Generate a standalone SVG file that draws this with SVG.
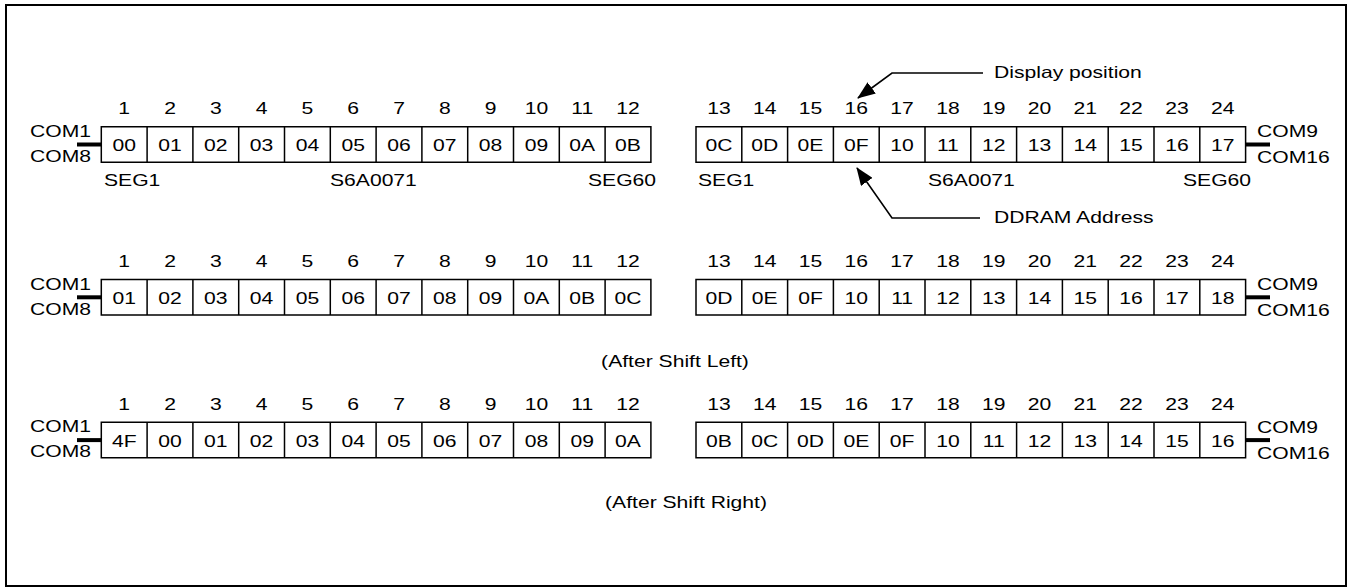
<svg xmlns="http://www.w3.org/2000/svg" width="1350" height="588" viewBox="0 0 1350 588">
<style>
text{font-family:"Liberation Sans",Arial,sans-serif;font-size:16.5px;fill:#000}
.m{text-anchor:middle}
.box{fill:#fff;stroke:#000;stroke-width:1.5}
.stub{stroke:#000;stroke-width:4}
.ln{fill:none;stroke:#000;stroke-width:1.6}
</style>
<defs>
<marker id="ah" markerUnits="userSpaceOnUse" markerWidth="18" markerHeight="14" viewBox="0 0 18 14" refX="17" refY="7" orient="auto">
<path d="M0,0 L18,7 L0,14 Z" fill="#000"/>
</marker>
</defs>
<rect x="6" y="5" width="1340" height="581" fill="#fff" stroke="#000" stroke-width="2"/>

<!-- Row 1 -->
<g id="row1-left">
<path class="box" d="M101.3,126.7h549.6v35.5h-549.6z M147.1,126.7v35.5 M192.9,126.7v35.5 M238.7,126.7v35.5 M284.5,126.7v35.5 M330.3,126.7v35.5 M376.1,126.7v35.5 M421.9,126.7v35.5 M467.7,126.7v35.5 M513.5,126.7v35.5 M559.3,126.7v35.5 M605.1,126.7v35.5"/>
<text class="m" transform="translate(124.2,114) scale(1.28,1)">1</text>
<text class="m" transform="translate(170,114) scale(1.28,1)">2</text>
<text class="m" transform="translate(215.8,114) scale(1.28,1)">3</text>
<text class="m" transform="translate(261.6,114) scale(1.28,1)">4</text>
<text class="m" transform="translate(307.4,114) scale(1.28,1)">5</text>
<text class="m" transform="translate(353.2,114) scale(1.28,1)">6</text>
<text class="m" transform="translate(399,114) scale(1.28,1)">7</text>
<text class="m" transform="translate(444.8,114) scale(1.28,1)">8</text>
<text class="m" transform="translate(490.6,114) scale(1.28,1)">9</text>
<text class="m" transform="translate(536.4,114) scale(1.28,1)">10</text>
<text class="m" transform="translate(582.2,114) scale(1.28,1)">11</text>
<text class="m" transform="translate(628,114) scale(1.28,1)">12</text>
<text class="m" transform="translate(124.2,151) scale(1.28,1)">00</text>
<text class="m" transform="translate(170,151) scale(1.28,1)">01</text>
<text class="m" transform="translate(215.8,151) scale(1.28,1)">02</text>
<text class="m" transform="translate(261.6,151) scale(1.28,1)">03</text>
<text class="m" transform="translate(307.4,151) scale(1.28,1)">04</text>
<text class="m" transform="translate(353.2,151) scale(1.28,1)">05</text>
<text class="m" transform="translate(399,151) scale(1.28,1)">06</text>
<text class="m" transform="translate(444.8,151) scale(1.28,1)">07</text>
<text class="m" transform="translate(490.6,151) scale(1.28,1)">08</text>
<text class="m" transform="translate(536.4,151) scale(1.28,1)">09</text>
<text class="m" transform="translate(582.2,151) scale(1.28,1)">0A</text>
<text class="m" transform="translate(628,151) scale(1.28,1)">0B</text>
<text transform="translate(30,136.7) scale(1.28,1)">COM1</text>
<text transform="translate(30,161.7) scale(1.28,1)">COM8</text>
<text transform="translate(104,186) scale(1.28,1)">SEG1</text>
<text transform="translate(330,186) scale(1.28,1)">S6A0071</text>
<text transform="translate(588,186) scale(1.28,1)">SEG60</text>
</g>
<g id="row1-right">
<path class="box" d="M696,126.7h549.6v35.5h-549.6z M741.8,126.7v35.5 M787.6,126.7v35.5 M833.4,126.7v35.5 M879.2,126.7v35.5 M925,126.7v35.5 M970.8,126.7v35.5 M1016.6,126.7v35.5 M1062.4,126.7v35.5 M1108.2,126.7v35.5 M1154,126.7v35.5 M1199.8,126.7v35.5"/>
<text class="m" transform="translate(718.9,114) scale(1.28,1)">13</text>
<text class="m" transform="translate(764.7,114) scale(1.28,1)">14</text>
<text class="m" transform="translate(810.5,114) scale(1.28,1)">15</text>
<text class="m" transform="translate(856.3,114) scale(1.28,1)">16</text>
<text class="m" transform="translate(902.1,114) scale(1.28,1)">17</text>
<text class="m" transform="translate(947.9,114) scale(1.28,1)">18</text>
<text class="m" transform="translate(993.7,114) scale(1.28,1)">19</text>
<text class="m" transform="translate(1039.5,114) scale(1.28,1)">20</text>
<text class="m" transform="translate(1085.3,114) scale(1.28,1)">21</text>
<text class="m" transform="translate(1131.1,114) scale(1.28,1)">22</text>
<text class="m" transform="translate(1176.9,114) scale(1.28,1)">23</text>
<text class="m" transform="translate(1222.7,114) scale(1.28,1)">24</text>
<text class="m" transform="translate(718.9,151) scale(1.28,1)">0C</text>
<text class="m" transform="translate(764.7,151) scale(1.28,1)">0D</text>
<text class="m" transform="translate(810.5,151) scale(1.28,1)">0E</text>
<text class="m" transform="translate(856.3,151) scale(1.28,1)">0F</text>
<text class="m" transform="translate(902.1,151) scale(1.28,1)">10</text>
<text class="m" transform="translate(947.9,151) scale(1.28,1)">11</text>
<text class="m" transform="translate(993.7,151) scale(1.28,1)">12</text>
<text class="m" transform="translate(1039.5,151) scale(1.28,1)">13</text>
<text class="m" transform="translate(1085.3,151) scale(1.28,1)">14</text>
<text class="m" transform="translate(1131.1,151) scale(1.28,1)">15</text>
<text class="m" transform="translate(1176.9,151) scale(1.28,1)">16</text>
<text class="m" transform="translate(1222.7,151) scale(1.28,1)">17</text>
<text transform="translate(1257,137) scale(1.28,1)">COM9</text>
<text transform="translate(1257,163) scale(1.28,1)">COM16</text>
<text transform="translate(698,186) scale(1.28,1)">SEG1</text>
<text transform="translate(928,186) scale(1.28,1)">S6A0071</text>
<text transform="translate(1183,186) scale(1.28,1)">SEG60</text>
</g>
<g id="label-display">
<text transform="translate(994,78) scale(1.28,1)">Display position</text>
</g>
<g id="label-ddram">
<text transform="translate(994,223) scale(1.28,1)">DDRAM Address</text>
</g>

<!-- Row 2 -->
<g id="row2-left">
<path class="box" d="M101.3,279.5h549.6v35.5h-549.6z M147.1,279.5v35.5 M192.9,279.5v35.5 M238.7,279.5v35.5 M284.5,279.5v35.5 M330.3,279.5v35.5 M376.1,279.5v35.5 M421.9,279.5v35.5 M467.7,279.5v35.5 M513.5,279.5v35.5 M559.3,279.5v35.5 M605.1,279.5v35.5"/>
<text class="m" transform="translate(124.2,267) scale(1.28,1)">1</text>
<text class="m" transform="translate(170,267) scale(1.28,1)">2</text>
<text class="m" transform="translate(215.8,267) scale(1.28,1)">3</text>
<text class="m" transform="translate(261.6,267) scale(1.28,1)">4</text>
<text class="m" transform="translate(307.4,267) scale(1.28,1)">5</text>
<text class="m" transform="translate(353.2,267) scale(1.28,1)">6</text>
<text class="m" transform="translate(399,267) scale(1.28,1)">7</text>
<text class="m" transform="translate(444.8,267) scale(1.28,1)">8</text>
<text class="m" transform="translate(490.6,267) scale(1.28,1)">9</text>
<text class="m" transform="translate(536.4,267) scale(1.28,1)">10</text>
<text class="m" transform="translate(582.2,267) scale(1.28,1)">11</text>
<text class="m" transform="translate(628,267) scale(1.28,1)">12</text>
<text class="m" transform="translate(124.2,303.8) scale(1.28,1)">01</text>
<text class="m" transform="translate(170,303.8) scale(1.28,1)">02</text>
<text class="m" transform="translate(215.8,303.8) scale(1.28,1)">03</text>
<text class="m" transform="translate(261.6,303.8) scale(1.28,1)">04</text>
<text class="m" transform="translate(307.4,303.8) scale(1.28,1)">05</text>
<text class="m" transform="translate(353.2,303.8) scale(1.28,1)">06</text>
<text class="m" transform="translate(399,303.8) scale(1.28,1)">07</text>
<text class="m" transform="translate(444.8,303.8) scale(1.28,1)">08</text>
<text class="m" transform="translate(490.6,303.8) scale(1.28,1)">09</text>
<text class="m" transform="translate(536.4,303.8) scale(1.28,1)">0A</text>
<text class="m" transform="translate(582.2,303.8) scale(1.28,1)">0B</text>
<text class="m" transform="translate(628,303.8) scale(1.28,1)">0C</text>
<text transform="translate(30,289.5) scale(1.28,1)">COM1</text>
<text transform="translate(30,314.5) scale(1.28,1)">COM8</text>
</g>
<g id="row2-right">
<path class="box" d="M696,279.5h549.6v35.5h-549.6z M741.8,279.5v35.5 M787.6,279.5v35.5 M833.4,279.5v35.5 M879.2,279.5v35.5 M925,279.5v35.5 M970.8,279.5v35.5 M1016.6,279.5v35.5 M1062.4,279.5v35.5 M1108.2,279.5v35.5 M1154,279.5v35.5 M1199.8,279.5v35.5"/>
<text class="m" transform="translate(718.9,267) scale(1.28,1)">13</text>
<text class="m" transform="translate(764.7,267) scale(1.28,1)">14</text>
<text class="m" transform="translate(810.5,267) scale(1.28,1)">15</text>
<text class="m" transform="translate(856.3,267) scale(1.28,1)">16</text>
<text class="m" transform="translate(902.1,267) scale(1.28,1)">17</text>
<text class="m" transform="translate(947.9,267) scale(1.28,1)">18</text>
<text class="m" transform="translate(993.7,267) scale(1.28,1)">19</text>
<text class="m" transform="translate(1039.5,267) scale(1.28,1)">20</text>
<text class="m" transform="translate(1085.3,267) scale(1.28,1)">21</text>
<text class="m" transform="translate(1131.1,267) scale(1.28,1)">22</text>
<text class="m" transform="translate(1176.9,267) scale(1.28,1)">23</text>
<text class="m" transform="translate(1222.7,267) scale(1.28,1)">24</text>
<text class="m" transform="translate(718.9,303.8) scale(1.28,1)">0D</text>
<text class="m" transform="translate(764.7,303.8) scale(1.28,1)">0E</text>
<text class="m" transform="translate(810.5,303.8) scale(1.28,1)">0F</text>
<text class="m" transform="translate(856.3,303.8) scale(1.28,1)">10</text>
<text class="m" transform="translate(902.1,303.8) scale(1.28,1)">11</text>
<text class="m" transform="translate(947.9,303.8) scale(1.28,1)">12</text>
<text class="m" transform="translate(993.7,303.8) scale(1.28,1)">13</text>
<text class="m" transform="translate(1039.5,303.8) scale(1.28,1)">14</text>
<text class="m" transform="translate(1085.3,303.8) scale(1.28,1)">15</text>
<text class="m" transform="translate(1131.1,303.8) scale(1.28,1)">16</text>
<text class="m" transform="translate(1176.9,303.8) scale(1.28,1)">17</text>
<text class="m" transform="translate(1222.7,303.8) scale(1.28,1)">18</text>
<text transform="translate(1257,290) scale(1.28,1)">COM9</text>
<text transform="translate(1257,316) scale(1.28,1)">COM16</text>
</g>
<g id="caption-left">
<text class="m" transform="translate(675,367) scale(1.28,1)">(After Shift Left)</text>
</g>

<!-- Row 3 -->
<g id="row3-left">
<path class="box" d="M101.3,422.3h549.6v35.5h-549.6z M147.1,422.3v35.5 M192.9,422.3v35.5 M238.7,422.3v35.5 M284.5,422.3v35.5 M330.3,422.3v35.5 M376.1,422.3v35.5 M421.9,422.3v35.5 M467.7,422.3v35.5 M513.5,422.3v35.5 M559.3,422.3v35.5 M605.1,422.3v35.5"/>
<text class="m" transform="translate(124.2,410) scale(1.28,1)">1</text>
<text class="m" transform="translate(170,410) scale(1.28,1)">2</text>
<text class="m" transform="translate(215.8,410) scale(1.28,1)">3</text>
<text class="m" transform="translate(261.6,410) scale(1.28,1)">4</text>
<text class="m" transform="translate(307.4,410) scale(1.28,1)">5</text>
<text class="m" transform="translate(353.2,410) scale(1.28,1)">6</text>
<text class="m" transform="translate(399,410) scale(1.28,1)">7</text>
<text class="m" transform="translate(444.8,410) scale(1.28,1)">8</text>
<text class="m" transform="translate(490.6,410) scale(1.28,1)">9</text>
<text class="m" transform="translate(536.4,410) scale(1.28,1)">10</text>
<text class="m" transform="translate(582.2,410) scale(1.28,1)">11</text>
<text class="m" transform="translate(628,410) scale(1.28,1)">12</text>
<text class="m" transform="translate(124.2,446.6) scale(1.28,1)">4F</text>
<text class="m" transform="translate(170,446.6) scale(1.28,1)">00</text>
<text class="m" transform="translate(215.8,446.6) scale(1.28,1)">01</text>
<text class="m" transform="translate(261.6,446.6) scale(1.28,1)">02</text>
<text class="m" transform="translate(307.4,446.6) scale(1.28,1)">03</text>
<text class="m" transform="translate(353.2,446.6) scale(1.28,1)">04</text>
<text class="m" transform="translate(399,446.6) scale(1.28,1)">05</text>
<text class="m" transform="translate(444.8,446.6) scale(1.28,1)">06</text>
<text class="m" transform="translate(490.6,446.6) scale(1.28,1)">07</text>
<text class="m" transform="translate(536.4,446.6) scale(1.28,1)">08</text>
<text class="m" transform="translate(582.2,446.6) scale(1.28,1)">09</text>
<text class="m" transform="translate(628,446.6) scale(1.28,1)">0A</text>
<text transform="translate(30,432.3) scale(1.28,1)">COM1</text>
<text transform="translate(30,457.3) scale(1.28,1)">COM8</text>
</g>
<g id="row3-right">
<path class="box" d="M696,422.3h549.6v35.5h-549.6z M741.8,422.3v35.5 M787.6,422.3v35.5 M833.4,422.3v35.5 M879.2,422.3v35.5 M925,422.3v35.5 M970.8,422.3v35.5 M1016.6,422.3v35.5 M1062.4,422.3v35.5 M1108.2,422.3v35.5 M1154,422.3v35.5 M1199.8,422.3v35.5"/>
<text class="m" transform="translate(718.9,410) scale(1.28,1)">13</text>
<text class="m" transform="translate(764.7,410) scale(1.28,1)">14</text>
<text class="m" transform="translate(810.5,410) scale(1.28,1)">15</text>
<text class="m" transform="translate(856.3,410) scale(1.28,1)">16</text>
<text class="m" transform="translate(902.1,410) scale(1.28,1)">17</text>
<text class="m" transform="translate(947.9,410) scale(1.28,1)">18</text>
<text class="m" transform="translate(993.7,410) scale(1.28,1)">19</text>
<text class="m" transform="translate(1039.5,410) scale(1.28,1)">20</text>
<text class="m" transform="translate(1085.3,410) scale(1.28,1)">21</text>
<text class="m" transform="translate(1131.1,410) scale(1.28,1)">22</text>
<text class="m" transform="translate(1176.9,410) scale(1.28,1)">23</text>
<text class="m" transform="translate(1222.7,410) scale(1.28,1)">24</text>
<text class="m" transform="translate(718.9,446.6) scale(1.28,1)">0B</text>
<text class="m" transform="translate(764.7,446.6) scale(1.28,1)">0C</text>
<text class="m" transform="translate(810.5,446.6) scale(1.28,1)">0D</text>
<text class="m" transform="translate(856.3,446.6) scale(1.28,1)">0E</text>
<text class="m" transform="translate(902.1,446.6) scale(1.28,1)">0F</text>
<text class="m" transform="translate(947.9,446.6) scale(1.28,1)">10</text>
<text class="m" transform="translate(993.7,446.6) scale(1.28,1)">11</text>
<text class="m" transform="translate(1039.5,446.6) scale(1.28,1)">12</text>
<text class="m" transform="translate(1085.3,446.6) scale(1.28,1)">13</text>
<text class="m" transform="translate(1131.1,446.6) scale(1.28,1)">14</text>
<text class="m" transform="translate(1176.9,446.6) scale(1.28,1)">15</text>
<text class="m" transform="translate(1222.7,446.6) scale(1.28,1)">16</text>
<text transform="translate(1257,432.8) scale(1.28,1)">COM9</text>
<text transform="translate(1257,458.8) scale(1.28,1)">COM16</text>
</g>
<g id="caption-right">
<text class="m" transform="translate(686,508) scale(1.28,1)">(After Shift Right)</text>
</g>

<g id="connectors">
<line class="stub" x1="77" y1="144.5" x2="101.3" y2="144.5"/>
<line class="stub" x1="1245.6" y1="144.5" x2="1270" y2="144.5"/>
<line class="stub" x1="77" y1="297.3" x2="101.3" y2="297.3"/>
<line class="stub" x1="1245.6" y1="297.3" x2="1270" y2="297.3"/>
<line class="stub" x1="77" y1="440.1" x2="101.3" y2="440.1"/>
<line class="stub" x1="1245.6" y1="440.1" x2="1270" y2="440.1"/>
<path class="ln" d="M983,73 H892 L858,98" marker-end="url(#ah)"/>
<path class="ln" d="M980,218 H892 L857,168" marker-end="url(#ah)"/>
</g>
</svg>
